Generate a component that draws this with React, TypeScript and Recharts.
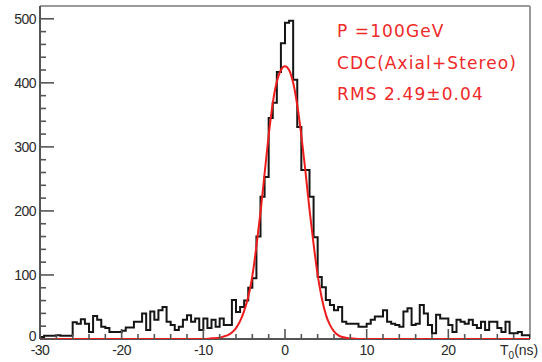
import React from "react";
import { ComposedChart, Line, XAxis, YAxis, ReferenceLine } from "recharts";

// Histogram: 120 bins of 0.5 ns from -30 to 30 ns
const binStart = -30;
const binWidth = 0.5;
const histCounts = [
  3, 5, 5, 5, 6, 5, 5, 5,
  26, 24, 31, 24, 11, 36, 30, 19, 17, 11, 11, 11, 13, 18, 18, 27, 27, 40,
  14, 43, 30, 45, 50, 27, 22, 14, 19, 30, 37, 27, 32, 14, 32, 17, 30, 19, 32, 22, 22, 61,
  42, 50, 60, 80, 95, 160, 222, 253, 345, 369, 417, 462, 494, 497, 405, 331, 264, 264, 222, 159, 97, 81, 61,
  53, 45, 50, 27, 24, 24, 24, 19, 19, 24,
  30, 35, 35, 45, 27, 24, 22, 19, 43, 48,
  22, 24, 53, 40, 22, 9, 38, 32, 32, 22,
  11, 30, 27, 24, 30, 22, 17, 27, 14, 27,
  27, 17, 11, 27, 9, 9, 11, 6, 6,
];

// Gaussian fit curve
const fitT = [-30, -10, -9, -8, -7.5, -7, -6.5, -6, -5.5, -5, -4.5, -4, -3.5, -3, -2.5, -2, -1.5, -1, -0.5, 0, 0.5, 1, 1.5, 2, 2.5, 3, 3.5, 4, 4.5, 5, 5.5, 6, 6.5, 7, 8, 9, 30];
const fitV = [0, 0, 1, 2, 4, 6, 10, 17, 28, 44, 66, 98, 145, 198, 258, 318, 368, 402, 420, 426, 420, 400, 365, 318, 262, 202, 148, 100, 64, 38, 22, 12, 6, 3, 1, 0, 0];

const yTicks = [0, 20, 40, 60, 80, 100, 120, 140, 160, 180, 200, 220, 240, 260, 280, 300, 320, 340, 360, 380, 400, 420, 440, 460, 480, 500];
const xTicks = [-30, -28, -26, -24, -22, -20, -18, -16, -14, -12, -10, -8, -6, -4, -2, 0, 2, 4, 6, 8, 10, 12, 14, 16, 18, 20, 22, 24, 26, 28, 30];
const xMajorLabels = [-30, -20, -10, 0, 10, 20];

const infoLines = ["P =100GeV", "CDC(Axial+Stereo)", "RMS 2.49\u00b10.04"];

const histData = [
  ...histCounts.map((c, i) => ({ x: binStart + i * binWidth, y: c })),
  { x: binStart + histCounts.length * binWidth, y: histCounts[histCounts.length - 1] },
  { x: binStart + histCounts.length * binWidth, y: 0 },
];
const fitData = fitT.map((t, i) => ({ x: t, y: fitV[i] }));

const FONT = "'Liberation Sans', Arial, Helvetica, sans-serif";

const YTick = (props: any) => {
  const { x, y, payload } = props;
  const v = payload.value;
  const major = v % 100 === 0;
  return (
    <g>
      <line x1={x} x2={x + (major ? 14 : 6)} y1={y} y2={y} stroke="#555" strokeWidth={1.6} />
      {major && (
        <text x={x - 4} y={v === 0 ? y + 2 : y + 5} textAnchor="end" fontSize={14} fill="#2a2a2a" fontFamily={FONT} letterSpacing={-0.5}>
          {v}
        </text>
      )}
    </g>
  );
};

const XTick = (props: any) => {
  const { x, y, payload } = props;
  const v = payload.value;
  const major = v % 10 === 0;
  return (
    <g>
      {v !== -30 && v !== 30 && (
        <line x1={x} x2={x} y1={y} y2={y - (major ? 10 : 5)} stroke="#555" strokeWidth={1.6} />
      )}
      {xMajorLabels.includes(v) && (
        <text x={x} y={y + 16} textAnchor="middle" fontSize={14} fill="#2a2a2a" fontFamily={FONT} letterSpacing={-0.5}>
          {v}
        </text>
      )}
      {v === 30 && (
        <text x={x - 30} y={y + 16} textAnchor="start" fontSize={14} fill="#2a2a2a" fontFamily={FONT}>
          T
          <tspan fontSize={10} dy={4}>0</tspan>
          <tspan dy={-4}>(ns)</tspan>
        </text>
      )}
    </g>
  );
};

export default function App() {
  return (
    <div style={{ position: "absolute", left: 0, top: 0, width: 542, height: 362, background: "#fff" }}>
      <ComposedChart width={542} height={362} margin={{ top: 6, right: 12, left: 0, bottom: 0 }}>
        <XAxis
          dataKey="x"
          type="number"
          domain={[-30, 30]}
          ticks={xTicks}
          interval={0}
          allowDataOverflow
          height={23}
          tickSize={0}
          tickMargin={0}
          tick={<XTick />}
          axisLine={false}
          tickLine={false}
        />
        <YAxis
          type="number"
          domain={[0, 520]}
          ticks={yTicks}
          interval={0}
          allowDataOverflow
          width={40}
          tickSize={0}
          tickMargin={0}
          tick={<YTick />}
          axisLine={{ stroke: "#555", strokeWidth: 2 }}
          tickLine={false}
        />
        <ReferenceLine y={0} stroke="#555" strokeWidth={2} />
        <ReferenceLine y={520} stroke="#9a9a9a" strokeWidth={2} />
        <ReferenceLine x={30} stroke="#9a9a9a" strokeWidth={2} />
        <Line
          data={histData}
          dataKey="y"
          type="stepAfter"
          stroke="#151515"
          strokeWidth={2}
          dot={false}
          activeDot={false}
          isAnimationActive={false}
        />
        <Line
          data={fitData}
          dataKey="y"
          type="monotone"
          stroke="#ee1c1c"
          strokeWidth={2}
          dot={false}
          activeDot={false}
          isAnimationActive={false}
        />
      </ComposedChart>
      <svg width={542} height={362} style={{ position: "absolute", left: 0, top: 0, pointerEvents: "none" }}>
        {infoLines.map((s, i) => (
          <text
            key={s}
            x={337}
            y={37 + i * 31.5}
            fontSize={17}
            fill="#f02828"
            fontFamily="'DejaVu Sans', sans-serif"
            letterSpacing={1.1}
          >
            {s}
          </text>
        ))}
      </svg>
    </div>
  );
}
